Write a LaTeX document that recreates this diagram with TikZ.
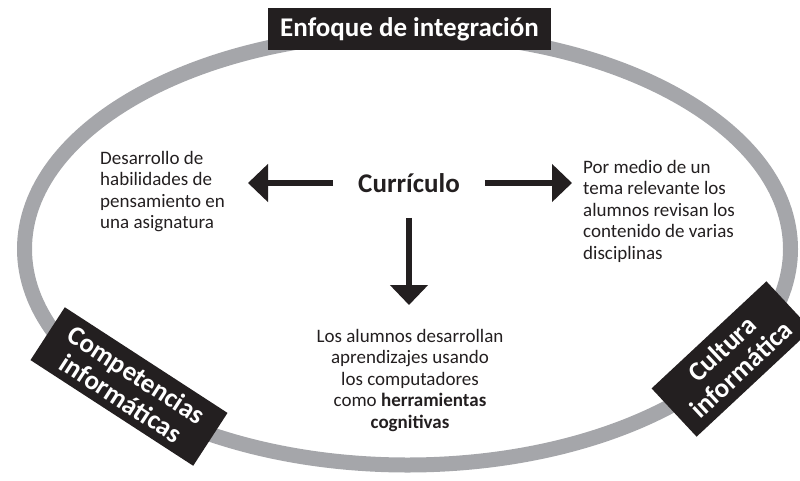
\documentclass[tikz,border=0pt]{standalone}
\usepackage{fontspec}
\setmainfont{Carlito}
\usetikzlibrary{arrows.meta}
\definecolor{caja}{RGB}{35,31,32}
\definecolor{anillo}{RGB}{165,166,170}

\begin{document}
\begin{tikzpicture}[x=1pt,y=-1pt,
  etiqueta/.style={fill=caja,text=white,font=\fontsize{27}{28}\selectfont\bfseries,align=center,inner sep=0pt},
  texto/.style={text=caja,font=\fontsize{19}{21.5}\selectfont,inner sep=0pt},
  flecha/.style={draw=caja,line width=6pt,-{Triangle[length=20pt,width=37pt]},shorten <=25pt}]
\useasboundingbox (0,0) rectangle (800,480);

\draw[anillo,line width=15pt] (407.5,249) ellipse [x radius=383, y radius=216];

\node[etiqueta,minimum width=283pt,minimum height=42pt] (enfoque) at (409.5,29) {Enfoque de integración};
\node[etiqueta,minimum width=194pt,minimum height=63pt,rotate=-33] (competencias) at (129,386.5) {Competencias\\informáticas};
\node[etiqueta,minimum width=157pt,minimum height=66pt,rotate=43] (cultura) at (731.5,359) {Cultura\\informática};

\node[texto,font=\fontsize{27}{27}\selectfont\bfseries] (curriculo) at (409,183) {Currículo};
\node[texto,anchor=north west,align=left] (habilidades) at (100,151) {Desarrollo de\\habilidades de\\pensamiento en\\una asignatura};
\node[texto,anchor=north west,align=left] (tema) at (583,160) {Por medio de un\\tema relevante los\\alumnos revisan los\\contenido de varias\\disciplinas};
\node[texto,anchor=north,align=center] (alumnos) at (410,329) {Los alumnos desarrollan\\aprendizajes usando\\los computadores\\como \textbf{herramientas}\\\textbf{cognitivas}};

\coordinate (izq) at (248,183);
\coordinate (der) at (572,183);
\coordinate (abajo) at (409,305);
\foreach \punta in {izq,der,abajo}
    \draw[flecha] (curriculo) -- (\punta);
\end{tikzpicture}
\end{document}
